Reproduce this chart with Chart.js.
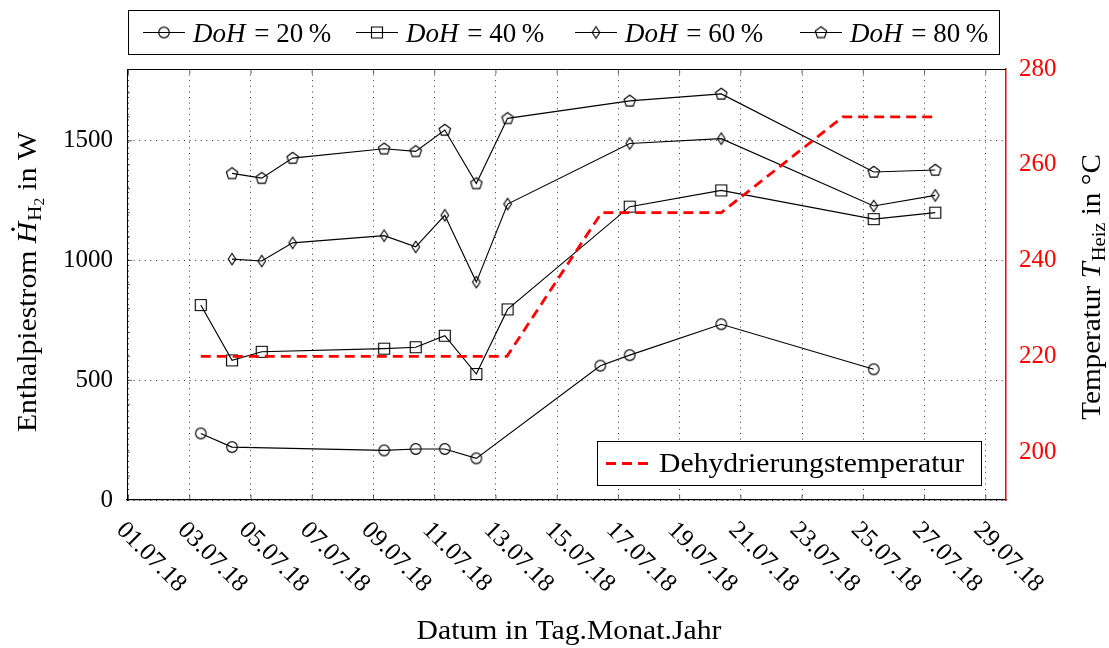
<!DOCTYPE html>
<html>
<head>
<meta charset="utf-8">
<script src="https://cdn.jsdelivr.net/npm/chart.js@4.4.0/dist/chart.umd.min.js"></script>
<style>
  body { margin: 0; background: #fff; }
</style>
</head>
<body>
<canvas id="myChart" width="1109" height="648"></canvas>
<script>
// Datos: dia de julio 2018 (con fraccion) y valores
const tage20 = [3.36, 4.38, 9.35, 10.38, 11.33, 12.36, 16.41, 17.37, 20.36, 25.34];
const doh20 = [278, 221, 207, 213, 213, 174, 561, 605, 734, 546];

const tage40 = [3.36, 4.38, 5.35, 9.35, 10.38, 11.33, 12.36, 13.38, 17.37, 20.36, 25.34, 27.35];
const doh40 = [814, 583, 619, 632, 638, 686, 526, 796, 1225, 1293, 1173, 1200];

const tage60 = [4.38, 5.35, 6.36, 9.35, 10.38, 11.33, 12.36, 13.38, 17.37, 20.36, 25.34, 27.35];
const doh60 = [1006, 998, 1074, 1104, 1057, 1189, 910, 1236, 1489, 1509, 1228, 1272];

const tage80 = [4.38, 5.35, 6.36, 9.35, 10.38, 11.33, 12.36, 13.38, 17.37, 20.36, 25.34, 27.35];
const doh80 = [1364, 1344, 1428, 1467, 1456, 1545, 1322, 1594, 1667, 1696, 1370, 1378];

const tageTemp = [3.36, 13.36, 16.45, 20.36, 24.33, 27.35];
const temp = [220, 220, 250, 250, 270, 270];

const xTicks = [1, 3, 5, 7, 9, 11, 13, 15, 17, 19, 21, 23, 25, 27, 29];
const yTicks = [0, 500, 1000, 1500];
const y2Ticks = [200, 220, 240, 260, 280];
const dohLabels = ["20", "40", "60", "80"];

const SERIF = '"Liberation Serif", "Times New Roman", serif';

// convierte dos arreglos en puntos {x, y}
const punkte = (tage, werte) => tage.map((t, i) => ({ x: t, y: werte[i] }));

// marcadores como canvas (circulo, cuadrado, rombo, pentagono)
function marker(kind) {
  const c = document.createElement('canvas');
  c.width = 16; c.height = 16;
  const g = c.getContext('2d');
  g.strokeStyle = '#000';
  g.lineWidth = 1.15;
  g.beginPath();
  if (kind === 'kreis') {
    g.arc(8, 8, 5.3, 0, Math.PI * 2);
  } else if (kind === 'quadrat') {
    g.rect(2.5, 2.5, 11, 11);
  } else if (kind === 'raute') {
    g.moveTo(8, 2.2); g.lineTo(11.8, 8); g.lineTo(8, 13.8); g.lineTo(4.2, 8); g.closePath();
  } else {
    for (let k = 0; k < 5; k++) {
      const a = -Math.PI / 2 + k * 2 * Math.PI / 5;
      const px = 8 + 6 * Math.cos(a), py = 8.3 + 6 * Math.sin(a);
      if (k) g.lineTo(px, py); else g.moveTo(px, py);
    }
    g.closePath();
  }
  g.stroke();
  return c;
}
const marks = [marker('kreis'), marker('quadrat'), marker('raute'), marker('penta')];

const serie = (label, data, m) => ({
  label, data, yAxisID: 'y', borderColor: '#000', borderWidth: 1.15,
  pointStyle: m, pointRadius: 6, tension: 0, order: 1
});

// texto con partes (cursiva, subindice); sx estira el texto en horizontal
function teile(ctx, parts, x, y, align, sx) {
  sx = sx || 1;
  let w = 0;
  parts.forEach(p => { ctx.font = p.f; p.w = (ctx.measureText(p.t).width + (p.extra || 0)) * sx; w += p.w; });
  let cx = align === 'center' ? x - w / 2 : x;
  parts.forEach(p => {
    ctx.font = p.f;
    ctx.fillStyle = '#000';
    ctx.textAlign = 'left';
    ctx.textBaseline = 'alphabetic';
    ctx.save();
    ctx.translate(cx, y + (p.dy || 0));
    ctx.scale(sx, 1);
    ctx.fillText(p.t, 0, 0);
    ctx.restore();
    if (p.dot) {
      ctx.beginPath();
      ctx.arc(cx + p.w * 0.62, y - 23, 1.8, 0, Math.PI * 2);
      ctx.fill();
    }
    cx += p.w;
  });
}

const extras = {
  id: 'extras',
  afterDraw(chart) {
    const ctx = chart.ctx;
    const a = chart.chartArea;
    const xs = chart.scales.x;
    ctx.save();

    // borde superior
    ctx.strokeStyle = '#000';
    ctx.lineWidth = 1;
    ctx.beginPath();
    ctx.moveTo(a.left, a.top + 0.5);
    ctx.lineTo(a.right, a.top + 0.5);
    ctx.stroke();

    // marcas pequenas de los ejes
    ctx.lineWidth = 0.8;
    ctx.strokeStyle = '#333';
    ctx.beginPath();
    xTicks.forEach(v => {
      const px = xs.getPixelForValue(v);
      ctx.moveTo(px, a.bottom); ctx.lineTo(px, a.bottom - 5);
      ctx.moveTo(px, a.top); ctx.lineTo(px, a.top + 5);
    });
    const ys = chart.scales.y;
    for (let v = 100; v < 1800; v += 100) {
      const py = ys.getPixelForValue(v);
      ctx.moveTo(a.left, py); ctx.lineTo(a.left + (v % 500 ? 3 : 5), py);
    }
    ctx.stroke();

    // etiquetas del eje x giradas 45 grados
    ctx.font = '25px ' + SERIF;
    ctx.fillStyle = '#000';
    ctx.textAlign = 'left';
    ctx.textBaseline = 'alphabetic';
    xTicks.forEach(v => {
      const px = xs.getPixelForValue(v);
      ctx.save();
      ctx.translate(px - 13, 531);
      ctx.rotate(Math.PI / 4);
      ctx.fillText(String(v).padStart(2, '0') + '.07.18', 0, 0);
      ctx.restore();
    });

    // titulos de los ejes
    const n27 = '27px ' + SERIF, i27 = 'italic 27px ' + SERIF;
    const n19 = '19px ' + SERIF, n14 = '14px ' + SERIF;
    teile(ctx, [{ t: 'Datum in Tag.Monat.Jahr', f: n27 }], 569, 639, 'center', 1.1);

    ctx.save();
    ctx.translate(36, 282);
    ctx.rotate(-Math.PI / 2);
    teile(ctx, [
      { t: 'Enthalpiestrom ', f: n27 },
      { t: 'H', f: i27, dot: true, extra: 1 },
      { t: 'H', f: n19, dy: 5 },
      { t: '2', f: n14, dy: 8 },
      { t: ' in W', f: n27 }
    ], 0, 0, 'center', 1.1);
    ctx.restore();

    ctx.save();
    ctx.translate(1100, 287);
    ctx.rotate(-Math.PI / 2);
    teile(ctx, [
      { t: 'Temperatur ', f: n27 },
      { t: 'T', f: i27, extra: 1 },
      { t: 'Heiz', f: n19, dy: 5 },
      { t: ' in \u00B0C', f: n27 }
    ], 0, 0, 'center', 1.08);
    ctx.restore();

    // leyenda superior
    ctx.fillStyle = '#fff';
    ctx.fillRect(129, 10, 871, 44);
    ctx.strokeStyle = '#000';
    ctx.lineWidth = 1;
    ctx.strokeRect(128.5, 10.5, 871, 44);
    const lx = [143, 356, 575, 800];
    dohLabels.forEach((d, i) => {
      const x0 = lx[i], yc = 32.5;
      ctx.strokeStyle = '#000';
      ctx.lineWidth = 1.15;
      ctx.beginPath();
      ctx.moveTo(x0, yc); ctx.lineTo(x0 + 42, yc);
      ctx.stroke();
      ctx.drawImage(marks[i], x0 + 21 - 8, yc - 8);
      teile(ctx, [
        { t: 'DoH', f: i27, extra: 2 },
        { t: ' = ' + d + '\u2009%', f: n27 }
      ], x0 + 50, 42, 'left');
    });

    // leyenda de temperatura
    ctx.fillStyle = '#fff';
    ctx.fillRect(598, 441, 384, 45);
    ctx.strokeStyle = '#000';
    ctx.lineWidth = 1;
    ctx.strokeRect(597.5, 441.5, 384, 44);
    ctx.strokeStyle = '#ff0000';
    ctx.lineWidth = 2.8;
    ctx.setLineDash([10, 6]);
    ctx.beginPath();
    ctx.moveTo(606, 463.5); ctx.lineTo(650, 463.5);
    ctx.stroke();
    ctx.setLineDash([]);
    teile(ctx, [{ t: 'Dehydrierungstemperatur', f: n27 }], 659, 472, 'left', 1.1);

    ctx.restore();
  }
};

const myChart = new Chart(document.getElementById('myChart'), {
  type: 'line',
  data: {
    datasets: [
      {
        label: 'Dehydrierungstemperatur', data: punkte(tageTemp, temp), yAxisID: 'y2',
        borderColor: '#ff0000', borderWidth: 2.8, borderDash: [10, 6], pointRadius: 0, tension: 0, order: 0
      },
      serie('DoH = 20 %', punkte(tage20, doh20), marks[0]),
      serie('DoH = 40 %', punkte(tage40, doh40), marks[1]),
      serie('DoH = 60 %', punkte(tage60, doh60), marks[2]),
      serie('DoH = 80 %', punkte(tage80, doh80), marks[3])
    ]
  },
  options: {
    responsive: false,
    animation: false,
    devicePixelRatio: 1,
    layout: { padding: { top: 69, left: 0, right: 0, bottom: 0 } },
    plugins: { legend: { display: false }, tooltip: { enabled: false } },
    scales: {
      x: {
        type: 'linear', min: 0.95, max: 29.66,
        afterBuildTicks: s => { s.ticks = xTicks.map(v => ({ value: v })); },
        afterFit: s => { s.height = 148; },
        ticks: { display: false },
        grid: { color: 'rgba(0,0,0,0.8)', lineWidth: 1, drawTicks: false },
        border: { display: true, color: '#000', width: 1.2, dash: [1, 4.6] }
      },
      y: {
        position: 'left', min: 0, max: 1800,
        afterBuildTicks: s => { s.ticks = yTicks.map(v => ({ value: v })); },
        afterFit: s => { s.width = 127; },
        ticks: { color: '#000', padding: 14, font: { family: SERIF, size: 25 }, callback: v => String(v) },
        grid: { color: 'rgba(0,0,0,0.8)', lineWidth: 1, drawTicks: false },
        border: { display: true, color: '#000', width: 1, dash: [1, 4.6] }
      },
      y2: {
        position: 'right', min: 190, max: 280,
        afterBuildTicks: s => { s.ticks = y2Ticks.map(v => ({ value: v })); },
        afterFit: s => { s.width = 103; },
        ticks: { color: '#ff0000', padding: 13, font: { family: SERIF, size: 25 }, callback: v => String(v) },
        grid: { display: false, drawTicks: false },
        border: { display: true, color: '#ff0000', width: 1.5 }
      }
    }
  },
  plugins: [extras]
});
</script>
</body>
</html>
